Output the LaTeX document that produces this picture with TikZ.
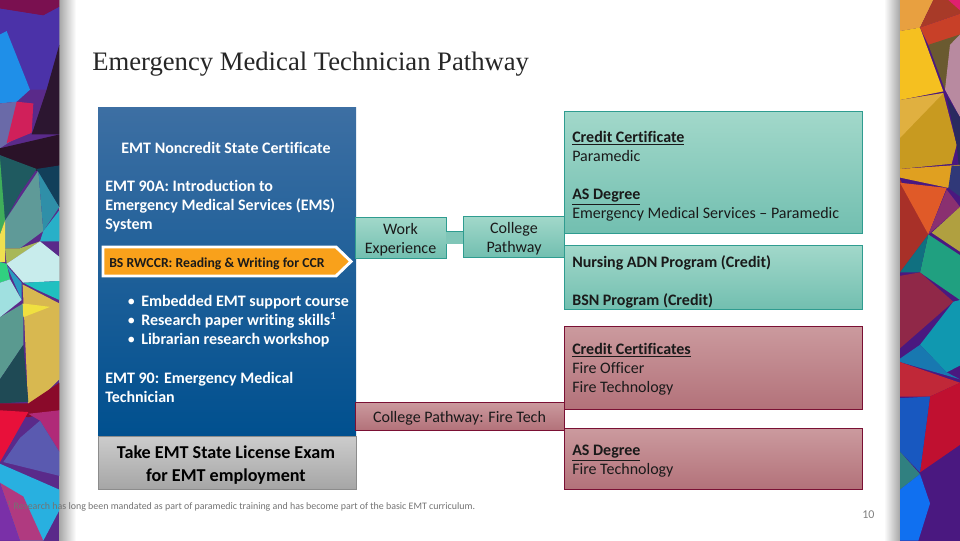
\documentclass[tikz,border=0pt]{standalone}
\usepackage{fontspec}
\setmainfont[Ligatures=NoCommon]{Carlito}
\newfontfamily\titlefont{Liberation Serif}
\usetikzlibrary{calc}
\definecolor{tealtop}{HTML}{A2D8CA}\definecolor{tealbot}{HTML}{72BFB0}\definecolor{tealline}{HTML}{2F9C90}
\definecolor{redtop}{HTML}{CB9A9E}\definecolor{redbot}{HTML}{B3727A}\definecolor{redline}{HTML}{7A1034}
\definecolor{txtdark}{HTML}{1A1A1A}
\definecolor{bluetop}{HTML}{3D6FA3}\definecolor{bluebot}{HTML}{00508F}
\tikzset{
  tealbox/.style={draw=tealline,line width=0.6pt,top color=tealtop,bottom color=tealbot,inner sep=0pt},
  redbox/.style={draw=redline,line width=0.6pt,top color=redtop,bottom color=redbot,inner sep=0pt},
  bluebox/.style={draw=none,top color=bluetop,bottom color=bluebot,inner sep=0pt},
  greybox/.style={draw=gray!90,line width=0.6pt,top color=black!20,bottom color=black!35,inner sep=0pt},
  whitetxt/.style={text=white,font=\fontsize{12}{14.25}\selectfont\bfseries,align=left,anchor=west,inner sep=0pt},
  darktxt/.style={text=txtdark,font=\fontsize{12}{14.25}\selectfont,align=left,anchor=west,inner sep=0pt},
  centertxt/.style={text=txtdark,font=\fontsize{12}{14.25}\selectfont,align=center,inner sep=0pt},
}
\newcommand{\pxbox}[6]{\pgfmathsetmacro\bw{(#5-#3)*0.75}\pgfmathsetmacro\bh{(#6-#4)*0.75}\pgfmathsetmacro\bx{(#3+#5)/2}\pgfmathsetmacro\by{(#4+#6)/2}\node[#2,minimum width=\bw pt,minimum height=\bh pt] (#1) at (\bx,\by) {};}
\newcommand{\polyc}[2]{\definecolor{pc}{HTML}{#1}\fill[pc] #2 -- cycle;}
\newcommand{\bul}{\makebox[10.5pt][l]{\normalfont•}}
\begin{document}
\begin{tikzpicture}[x=0.75pt,y=-0.75pt]
\useasboundingbox (0,0) rectangle (960,540);
\fill[white] (0,0) rectangle (960,540);
% shadows
\shade[left color=black!35,right color=white] (59,0) rectangle (76,540);
\shade[left color=white,right color=black!35] (884,0) rectangle (900,540);
% left band
\begin{scope}[x=0.25pt,y=-0.2586pt]
\clip (0,0) rectangle (178,1568);
\polyc{5A2A8A}{(0,0) -- (178,0) -- (178,1568) -- (0,1568)}
\polyc{7A1050}{(0,0) -- (178,0) -- (178,20) -- (130,45) -- (0,25)}
\polyc{4B32A8}{(0,25) -- (130,45) -- (178,20) -- (178,130) -- (140,260) -- (90,260) -- (20,90) -- (0,100)}
\polyc{1F8FE8}{(0,100) -- (20,90) -- (90,260) -- (50,295) -- (0,300)}
\polyc{6A6AA8}{(0,300) -- (50,295) -- (95,370) -- (0,430)}
\polyc{2C1630}{(140,260) -- (178,130) -- (178,390) -- (95,390)}
\polyc{D0205A}{(50,295) -- (100,300) -- (95,385) -- (20,415)}
\polyc{2A1228}{(0,430) -- (178,390) -- (178,480) -- (110,495) -- (0,450)}
\polyc{1F5A60}{(0,450) -- (110,490) -- (60,560) -- (15,640) -- (0,640)}
\polyc{3FAE5A}{(0,460) -- (15,640) -- (0,680)}
\polyc{5F9A98}{(15,640) -- (70,560) -- (115,495) -- (130,670) -- (60,720) -- (15,720)}
\polyc{2F8FA8}{(115,495) -- (178,600) -- (130,670)}
\polyc{123F5A}{(110,490) -- (178,480) -- (178,600)}
\polyc{28B0C8}{(130,670) -- (178,610) -- (178,700) -- (120,700)}
\polyc{F0E050}{(0,680) -- (15,640) -- (15,760) -- (0,760)}
\polyc{A8B858}{(15,720) -- (60,720) -- (120,700) -- (20,765)}
\polyc{C8ECEC}{(20,765) -- (120,700) -- (178,745) -- (178,815) -- (70,820)}
\polyc{20C0C0}{(70,820) -- (178,815) -- (178,870) -- (110,840)}
\polyc{2A9AC0}{(20,770) -- (65,820) -- (65,870)}
\polyc{30D080}{(0,760) -- (20,765) -- (30,810) -- (0,820)}
\polyc{A0E0E0}{(0,820) -- (30,810) -- (65,870) -- (0,920)}
\polyc{5A9A90}{(0,920) -- (70,880) -- (70,1000) -- (0,1100)}
\polyc{D8B850}{(68,825) -- (178,880) -- (178,1100) -- (85,1190)}
\polyc{F0E040}{(68,880) -- (150,890) -- (70,920)}
\polyc{1F4A55}{(0,1100) -- (70,1000) -- (85,1165) -- (0,1170)}
\polyc{8A0A2A}{(0,1170) -- (85,1170) -- (178,1110) -- (178,1190) -- (85,1210) -- (0,1195)}
\polyc{E8103A}{(0,1190) -- (85,1195) -- (0,1340)}
\polyc{B02A78}{(85,1200) -- (178,1190) -- (178,1310) -- (120,1220)}
\polyc{5A5AB0}{(120,1220) -- (178,1310) -- (178,1380) -- (10,1340) -- (60,1270)}
\polyc{28B0E0}{(0,1345) -- (178,1420) -- (178,1480) -- (130,1568) -- (60,1568) -- (0,1400)}
\polyc{B03A80}{(0,1400) -- (60,1568) -- (130,1568) -- (70,1440)}
\polyc{7A30A8}{(0,1400) -- (60,1568) -- (0,1568)}
\end{scope}
% right band
\begin{scope}[shift={(860,0)},x=0.25pt,y=-0.2586pt]
\clip (120,0) rectangle (300,1568);
\polyc{4A1880}{(120,0) -- (300,0) -- (300,1568) -- (120,1568)}
\polyc{E8A040}{(120,0) -- (220,0) -- (180,80) -- (120,90)}
\polyc{A83A28}{(220,0) -- (300,0) -- (300,40) -- (180,80)}
\polyc{E02070}{(265,0) -- (300,0) -- (300,30)}
\polyc{F5C020}{(120,90) -- (180,80) -- (250,265) -- (120,290)}
\polyc{C84028}{(180,80) -- (300,40) -- (300,100) -- (250,180) -- (205,130)}
\polyc{6A5A30}{(205,130) -- (300,100) -- (255,260)}
\polyc{B88AA0}{(270,130) -- (300,100) -- (300,340) -- (255,260)}
\polyc{C89A20}{(120,290) -- (250,270) -- (290,420) -- (275,475) -- (120,490)}
\polyc{E0B040}{(120,290) -- (250,270) -- (120,400)}
\polyc{2A2A60}{(260,280) -- (300,340) -- (300,520) -- (290,420)}
\polyc{E0A020}{(120,490) -- (300,478) -- (265,545) -- (120,515)}
\polyc{303878}{(275,480) -- (300,480) -- (300,570) -- (265,545)}
\polyc{A83028}{(120,520) -- (205,680) -- (120,790)}
\polyc{E05A28}{(120,530) -- (260,545) -- (205,680)}
\polyc{8A3070}{(260,550) -- (300,600) -- (205,680)}
\polyc{B0A040}{(300,600) -- (215,675) -- (300,730)}
\polyc{20A080}{(205,680) -- (300,740) -- (300,870) -- (180,790)}
\polyc{107080}{(205,680) -- (180,790) -- (120,790)}
\polyc{902848}{(120,800) -- (180,790) -- (280,875) -- (120,1010)}
\polyc{1098B0}{(180,1000) -- (280,875) -- (300,870) -- (300,1060) -- (260,1080)}
\polyc{1878B0}{(120,1040) -- (180,1000) -- (260,1080) -- (300,1100) -- (120,1050)}
\polyc{C02838}{(120,1050) -- (300,1110) -- (210,1150) -- (120,1150)}
\polyc{C01030}{(210,1150) -- (300,1110) -- (300,1290) -- (180,1370)}
\polyc{1858C0}{(120,1155) -- (210,1150) -- (180,1370) -- (120,1310)}
\polyc{308080}{(120,1310) -- (180,1375) -- (120,1420)}
\polyc{1070F0}{(120,1420) -- (180,1375) -- (210,1460) -- (175,1568) -- (120,1568)}
\end{scope}
% title
\node[anchor=west,inner sep=0pt,text=black!85,font=\titlefont\fontsize{20}{24}\selectfont] (title) at (92,64) {Emergency Medical Technician Pathway};
% main boxes
\pxbox{blue}{bluebox}{98}{107}{356}{436}
\pxbox{grey}{greybox}{98}{436}{356}{489}
\pxbox{work}{tealbox}{355}{217}{446}{258}
\pxbox{college}{tealbox}{463}{216}{564}{257}
\draw[tealline,line width=0.6pt,double=tealbot!70!tealtop,double distance=9pt] (work.east) -- (work.east -| college.west);
\pxbox{tealA}{tealbox}{564}{111}{862}{233}
\pxbox{tealB}{tealbox}{564}{245}{862}{309}
\pxbox{redA}{redbox}{564}{326}{862}{409}
\pxbox{redB}{redbox}{564}{428.5}{862}{489}
\pxbox{fire}{redbox}{355}{402}{564}{430}
% orange arrow
\draw[white,line width=2.2pt,fill={rgb,255:red,249;green,161;blue,27}] (103,247) -- (336,247) -- (351,261.5) -- (336,276) -- (103,276) -- cycle;
% left texts
\node[whitetxt,anchor=center,align=center] (t1) at (226,148) {EMT Noncredit State Certificate};
\node[whitetxt,anchor=north west] (t2) at (105,180) {EMT 90A: Introduction to\\Emergency Medical Services (EMS)\\System};
\node[darktxt,anchor=west,font=\fontsize{10.3}{12}\selectfont\bfseries] (t3) at (109,263.5) {BS RWCCR: Reading \& Writing for CCR};
\node[whitetxt,anchor=north west] (t4) at (127,295) {\bul Embedded EMT support course\\\bul Research paper writing skills\textsuperscript{1}\\\bul Librarian research workshop};
\node[whitetxt,anchor=north west] (t5) at (105,372) {EMT 90: Emergency Medical\\Technician};
\node[centertxt,font=\fontsize{13.6}{17}\selectfont\bfseries,text=black] (t6) at (226,465) {Take EMT State License Exam\\for EMT employment};
% middle texts
\node[centertxt] (t7) at (400.5,240) {Work\\Experience};
\node[centertxt] (t8) at (514,239) {College\\Pathway};
\node[centertxt] (t9) at (459.5,418) {College Pathway: Fire Tech};
% right texts
\node[darktxt,anchor=north west] (t10) at (572,131) {\textbf{\underline{Credit Certificate}}\\Paramedic};
\node[darktxt,anchor=north west] (t11) at (572,189) {\textbf{\underline{AS Degree}}\\Emergency Medical Services – Paramedic};
\node[darktxt,font=\fontsize{12}{14.25}\selectfont\bfseries] (t12) at (572,263) {Nursing ADN Program (Credit)};
\node[darktxt,font=\fontsize{12}{14.25}\selectfont\bfseries] (t13) at (572,301) {BSN Program (Credit)};
\node[darktxt,anchor=north west] (t14) at (572,343) {\textbf{\underline{Credit Certificates}}\\Fire Officer\\Fire Technology};
\node[darktxt,anchor=north west] (t15) at (572,444.5) {\textbf{\underline{AS Degree}}\\Fire Technology};
% footer
\node[anchor=west,inner sep=0pt,text=black!55,font=\fontsize{7.45}{9}\selectfont] (foot) at (7,506) {\textsuperscript{1} Research has long been mandated as part of paramedic training and has become part of the basic EMT curriculum.};
\node[anchor=west,inner sep=0pt,text=black!50,font=\fontsize{9}{11}\selectfont] (page) at (862,515) {10};
\end{tikzpicture}
\end{document}
